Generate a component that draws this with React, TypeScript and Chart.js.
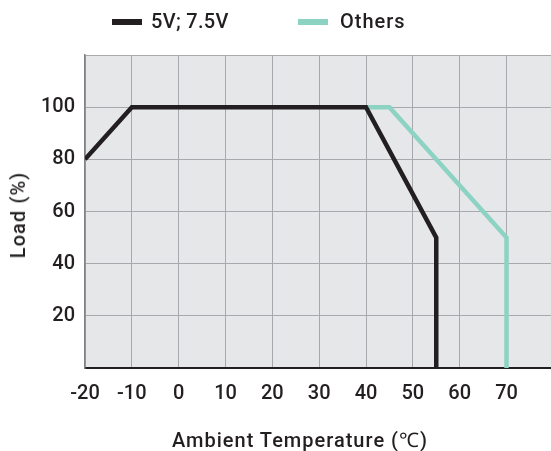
import React, { useEffect, useRef } from 'react';
import { Chart, registerables } from 'chart.js';

Chart.register(...registerables);

const seriesNames = ['5V; 7.5V', 'Others'];
const tempLow = [-20, -10, 40, 55, 55];
const loadLow = [80, 100, 100, 50, 0];
const tempOthers = [40, 45, 70, 70];
const loadOthers = [100, 100, 50, 0];
const xTickValues = [-20, -10, 0, 10, 20, 30, 40, 50, 60, 70];
const yTickValues = [0, 20, 40, 60, 80, 100, 120];
const yTickLabels = ['', '20', '40', '60', '80', '100', ''];
const xTitle = 'Ambient Temperature (℃)';
const yTitle = 'Load (%)';

const FONT = "Roboto, 'Liberation Sans', Arial, sans-serif";
const WEIGHT = 500;
const SIZE = 20;
const TEXT = '#231f20';
const BLACK = '#231f20';
const TEAL = '#8dd3c4';
const GRID = '#a7a9ac';
const PLOT_BG = '#e6e7e8';

const bgPlugin = {
  id: 'plotBg',
  beforeDraw(chart: any) {
    const { ctx, chartArea } = chart;
    if (!chartArea) return;
    ctx.save();
    ctx.fillStyle = PLOT_BG;
    ctx.fillRect(chartArea.left, chartArea.top, chartArea.right - chartArea.left, chartArea.bottom - chartArea.top);
    ctx.restore();
  },
};

export default function App() {
  const ref = useRef<HTMLCanvasElement>(null);

  useEffect(() => {
    if (!ref.current) return;
    const font = { family: FONT, size: SIZE, weight: WEIGHT as any };
    const chart = new Chart(ref.current, {
      type: 'line',
      data: {
        datasets: [
          {
            label: seriesNames[0],
            data: tempLow.map((x, i) => ({ x, y: loadLow[i] })),
            borderColor: BLACK,
            backgroundColor: BLACK,
            borderWidth: 4.5,
            pointRadius: 0,
            tension: 0,
            borderJoinStyle: 'miter',
          },
          {
            label: seriesNames[1],
            data: tempOthers.map((x, i) => ({ x, y: loadOthers[i] })),
            borderColor: TEAL,
            backgroundColor: TEAL,
            borderWidth: 4.5,
            pointRadius: 0,
            tension: 0,
            borderJoinStyle: 'miter',
          },
        ],
      },
      options: {
        animation: false,
        responsive: true,
        maintainAspectRatio: false,
        layout: { padding: { top: 55, left: 0, right: 0, bottom: 0 } },
        plugins: {
          legend: { display: false },
          tooltip: { enabled: false },
        },
        scales: {
          x: {
            type: 'linear',
            min: -20,
            max: 79.5,
            afterBuildTicks: (s: any) => {
              s.ticks = xTickValues.map((v) => ({ value: v }));
            },
            afterFit: (s: any) => {
              s.height = 83;
            },
            grid: { color: GRID, lineWidth: 1, drawTicks: false },
            border: { color: '#231f20', width: 2 },
            ticks: {
              color: TEXT,
              font,
              padding: 14,
              maxRotation: 0,
              autoSkip: false,
            },
          },
          y: {
            min: 0,
            max: 120,
            afterBuildTicks: (s: any) => {
              s.ticks = yTickValues.map((v) => ({ value: v }));
            },
            afterFit: (s: any) => {
              s.width = 85;
            },
            grid: { color: GRID, lineWidth: 1, drawTicks: false },
            border: { color: '#808285', width: 1.5 },
            ticks: {
              color: TEXT,
              font,
              padding: 10,
              autoSkip: false,
              callback: (v: any) => {
                const i = yTickValues.indexOf(Number(v));
                return i >= 0 ? yTickLabels[i] : '';
              },
            },
          },
        },
      },
      plugins: [bgPlugin],
    });
    return () => chart.destroy();
  }, []);

  const textStyle: React.CSSProperties = {
    position: 'absolute',
    fontFamily: FONT,
    fontWeight: WEIGHT,
    fontSize: SIZE,
    color: TEXT,
    lineHeight: '24px',
    whiteSpace: 'nowrap',
  };

  return (
    <div style={{ position: 'absolute', left: 0, top: 0, width: 551, height: 451, background: '#fff' }}>
      <canvas ref={ref} style={{ position: 'absolute', left: 0, top: 0, width: 551, height: 451 }} />
      <div style={{ position: 'absolute', left: 112, top: 19, width: 30, height: 6, background: BLACK }} />
      <div style={{ ...textStyle, left: 151, top: 9, letterSpacing: '0.3px' }}>{seriesNames[0]}</div>
      <div style={{ position: 'absolute', left: 298, top: 19, width: 30, height: 6, background: TEAL }} />
      <div style={{ ...textStyle, left: 340, top: 9, letterSpacing: '1px' }}>{seriesNames[1]}</div>
      <div style={{ ...textStyle, left: 300, top: 428, letterSpacing: '1px', transform: 'translateX(-50%)' }}>{xTitle}</div>
      <div
        style={{
          ...textStyle,
          left: 18,
          top: 215,
          letterSpacing: '1.1px',
          transform: 'translate(-50%, -50%) rotate(-90deg)',
        }}
      >
        {yTitle}
      </div>
    </div>
  );
}
